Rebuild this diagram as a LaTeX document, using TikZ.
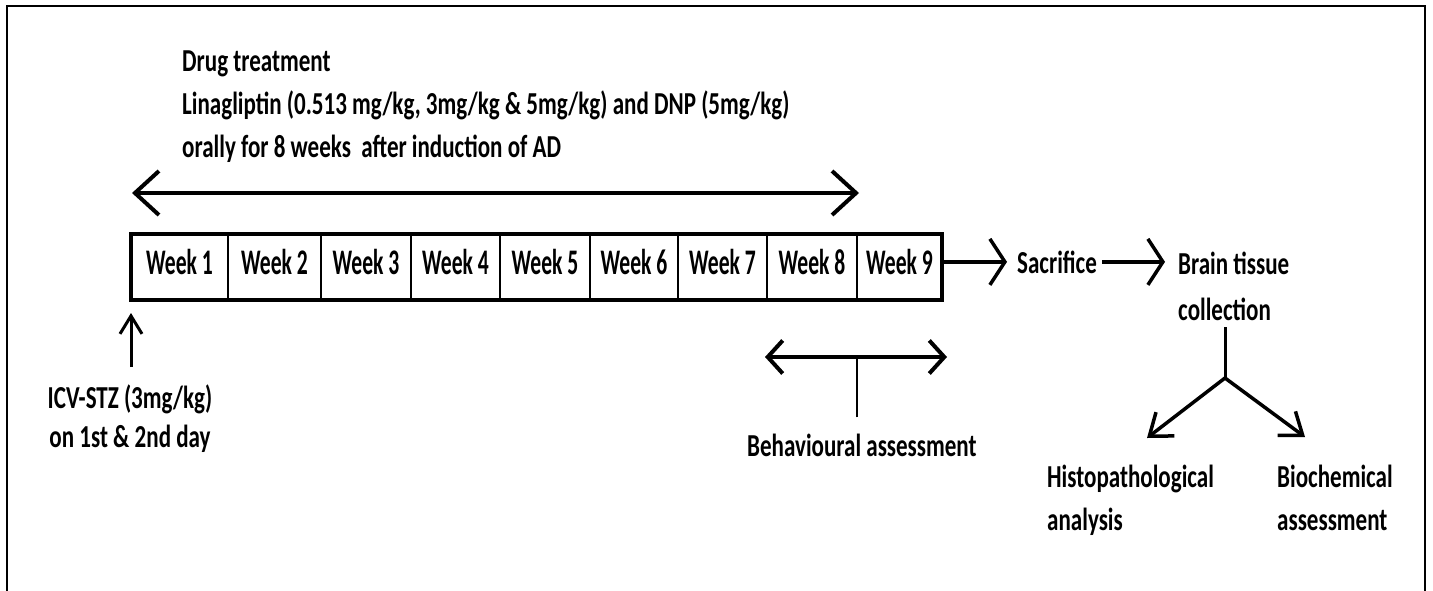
\documentclass[tikz,border=0pt]{standalone}
\usepackage{fontspec}
\setmainfont{Carlito}[FakeStretch=0.72]
\newfontfamily\weekfam{Carlito}[FakeStretch=0.6]
\usetikzlibrary{arrows.meta, positioning}
\newcommand{\lblfont}[1]{\fontsize{32}{#1}\selectfont\bfseries}
\newcommand{\wkfont}{\weekfam\fontsize{36}{40}\selectfont\bfseries}
\tikzset{
  lbl/.style={font=\lblfont{43}, inner sep=0pt, align=left, anchor=base west},
  weekbox/.style={rectangle, draw, line width=1.8pt, minimum height=66pt,
    inner sep=0pt, outer sep=0pt, text height=20pt, text depth=6pt, font=\wkfont},
  frame/.style={line width=2.5pt},
  arr/.style={-{Straight Barb[length=15pt, width=46pt]}, line width=3.5pt},
  toparr/.style={{Straight Barb[length=24pt, width=44pt]}-{Straight Barb[length=24pt, width=44pt]}, line width=4pt},
  behavarr/.style={{Straight Barb[length=15pt, width=33pt]}-{Straight Barb[length=15pt, width=33pt]}, line width=4pt},
  uparr/.style={-{Straight Barb[length=18pt, width=22pt]}, line width=3pt},
  brarr/.style={-{Straight Barb[length=20pt, width=30pt]}, line width=3.5pt},
  stem/.style={line width=2.5pt}
}

\begin{document}
\begin{tikzpicture}[x=1pt, y=-1pt]
  \useasboundingbox (0,0) rectangle (1433,590);
  % Outer frame
  \draw[frame] (7,592) -- (7,6) -- (1425,6) -- (1425,592);

  % Treatment text (base = last line)
  \node[lbl] (drug) at (182,157) {Drug treatment\\
    Linagliptin (0.513 mg/kg, 3mg/kg \& 5mg/kg) and DNP (5mg/kg)\\
    orally for 8 weeks\ \ after induction of AD};
  \coordinate (trtL) at (132,193);
  \coordinate (trtR) at (859,193);
  \draw[toparr] (trtL) -- (trtR);

  % Week boxes
  \node[weekbox, minimum width=97pt, anchor=west] (w1) at (131,267) {Week 1};
  \foreach \i/\j/\w in {2/1/93, 3/2/90, 4/3/89, 5/4/90, 6/5/88, 7/6/89, 8/7/90, 9/8/85}
    \node[weekbox, minimum width=\w pt, right=0pt of w\j] (w\i) {Week \i};
  \draw[line width=3.5pt] (w1.north west) rectangle (w9.south east);

  % ICV-STZ
  \node[lbl, font=\lblfont{39}, align=center, anchor=base] (icv) at (130,447) {ICV-STZ (3mg/kg)\\on 1st \& 2nd day};
  \draw[uparr, shorten <=17pt, shorten >=13pt] (icv.north -| w1.south west) -- (w1.south west);

  % Sacrifice and collection
  \node[lbl] (sacr) at (1017,273) {Sacrifice};
  \node[lbl, font=\lblfont{46}, align=left] (brain) at (1178,320) {Brain tissue\\collection};
  \draw[arr, shorten >=10pt] (w9.east |- sacr.west) -- (sacr.west);
  \draw[arr, shorten <=5pt, shorten >=13pt] (sacr.east) -- (sacr.east -| brain.west);

  % Behavioural assessment
  \node[lbl] (behav) at (747,456) {Behavioural assessment};
  \coordinate (behL) at (765,357);
  \coordinate (behR) at (947,357);
  \draw[behavarr] (behL) -- (behR);
  \draw[stem, shorten <=16pt] (behav.north -| w8.east) -- (behL -| w8.east);

  % Analyses
  \node[lbl] (histo) at (1047,530) {Histopathological\\analysis};
  \node[lbl] (bio) at (1277,530) {Biochemical\\assessment};
  \coordinate (fork) at (1225,378);
  \coordinate (histoTip) at (1147,438);
  \coordinate (bioTip) at (1305,437);
  \draw[stem, line width=3pt, shorten <=7pt] (brain.south -| fork) -- (fork);
  \draw[brarr] (fork) -- (histoTip);
  \draw[brarr] (fork) -- (bioTip);
\end{tikzpicture}
\end{document}
